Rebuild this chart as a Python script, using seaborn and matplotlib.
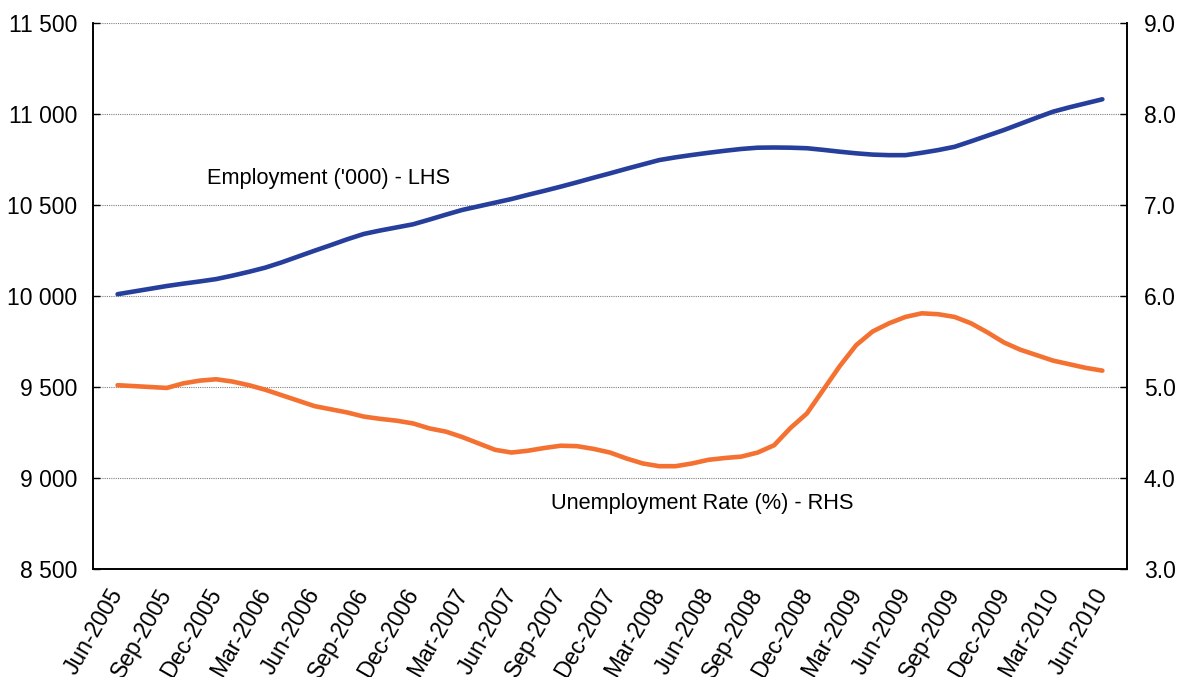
import numpy as np
import pandas as pd
import seaborn as sns
import matplotlib.pyplot as plt
from matplotlib.ticker import FuncFormatter

# -------------------------------
# Data (monthly, Jun-2005 .. Jun-2010)
# -------------------------------
months = pd.date_range("2005-06-01", "2010-06-01", freq="MS")

employment = [
    10010, 10025, 10040, 10055, 10068, 10080, 10093, 10112, 10133, 10156,
    10185, 10217, 10249, 10280, 10312, 10341, 10360, 10377, 10394, 10420,
    10447, 10473, 10493, 10513, 10533, 10556, 10578, 10601, 10625, 10650,
    10674, 10699, 10723, 10747, 10762, 10775, 10787, 10798, 10808, 10815,
    10816, 10815, 10812, 10803, 10793, 10784, 10777, 10774, 10774, 10787,
    10802, 10820, 10850, 10881, 10912, 10946, 10980, 11013, 11037, 11059,
    11081,
]

unemployment = [
    5.02, 5.01, 5.00, 4.99, 5.04, 5.07, 5.085, 5.06, 5.02, 4.97,
    4.91, 4.85, 4.79, 4.755, 4.72, 4.675, 4.65, 4.63, 4.60, 4.545,
    4.51, 4.45, 4.38, 4.31, 4.28, 4.30, 4.33, 4.355, 4.35, 4.32,
    4.28, 4.215, 4.16, 4.13, 4.13, 4.16, 4.20, 4.22, 4.235, 4.28,
    4.36, 4.55, 4.71, 4.97, 5.23, 5.46, 5.61, 5.70, 5.77, 5.81,
    5.80, 5.77, 5.70, 5.60, 5.49, 5.41, 5.35, 5.29, 5.25, 5.21,
    5.18,
]

left_ticks = [8500, 9000, 9500, 10000, 10500, 11000, 11500]
right_ticks = [3.0, 4.0, 5.0, 6.0, 7.0, 8.0, 9.0]

df = pd.DataFrame({
    "idx": np.arange(len(months)),
    "employment": employment,
    "unemployment": unemployment,
})
tick_idx = df["idx"][::3].tolist()
tick_labels = [m.strftime("%b-%Y") for m in months[::3]]

BLUE = "#263f9c"
ORANGE = "#f47131"

# -------------------------------
# Plot
# -------------------------------
sns.set_style("white")
plt.rcParams["font.family"] = ["Liberation Sans", "DejaVu Sans"]
plt.rcParams["text.color"] = "black"
plt.rcParams["xtick.color"] = "black"
plt.rcParams["ytick.color"] = "black"

fig = plt.figure(figsize=(11.77, 6.77), dpi=100)
ax = fig.add_axes([0.079, 0.1595, 0.8785, 0.8065])
ax2 = ax.twinx()

sns.lineplot(data=df, x="idx", y="employment", ax=ax, color=BLUE, lw=3.3)
sns.lineplot(data=df, x="idx", y="unemployment", ax=ax2, color=ORANGE, lw=3.3)

ax.set_xlim(-1.5, 61.5)
ax.set_ylim(8500, 11500)
ax2.set_ylim(3.0, 9.0)

ax.set_yticks(left_ticks)
ax.yaxis.set_major_formatter(FuncFormatter(lambda v, p: f"{int(v):,}".replace(",", " ")))
ax2.set_yticks(right_ticks)
ax2.yaxis.set_major_formatter(FuncFormatter(lambda v, p: f"{v:.1f}"))

# labels at category centres, tick marks at category boundaries
ax.set_xticks(tick_idx)
ax.set_xticklabels(tick_labels, rotation=60, ha="right", va="center", rotation_mode="anchor")
ax.set_xticks(np.arange(-1.5, 62, 3), minor=True)
ax.tick_params(axis="x", which="major", length=0, pad=15, labelsize=16.5)
ax.tick_params(axis="x", which="minor", direction="in", length=5, width=1, color="black")
ax.tick_params(axis="y", direction="in", length=5, width=1, color="black", labelsize=16.5, pad=11.5)
ax2.tick_params(axis="y", direction="in", length=5, width=1, color="black", labelsize=16.5, pad=12)

ax.grid(axis="y", color="#808080", linestyle=(0, (1, 1)), linewidth=0.8)
ax.set_xlabel("")
ax.set_ylabel("")
ax2.set_ylabel("")

for a in (ax, ax2):
    a.spines["top"].set_visible(False)
    for s in ("left", "right", "bottom"):
        a.spines[s].set_color("black")
        a.spines[s].set_linewidth(1.2)

ax.text(5.45, 10648, "Employment ('000) - LHS", fontsize=15.7, va="center", ha="left")
ax2.text(26.4, 3.725, "Unemployment Rate (%) - RHS", fontsize=15.7, va="center", ha="left")

fig.savefig("out.png", dpi=100)
